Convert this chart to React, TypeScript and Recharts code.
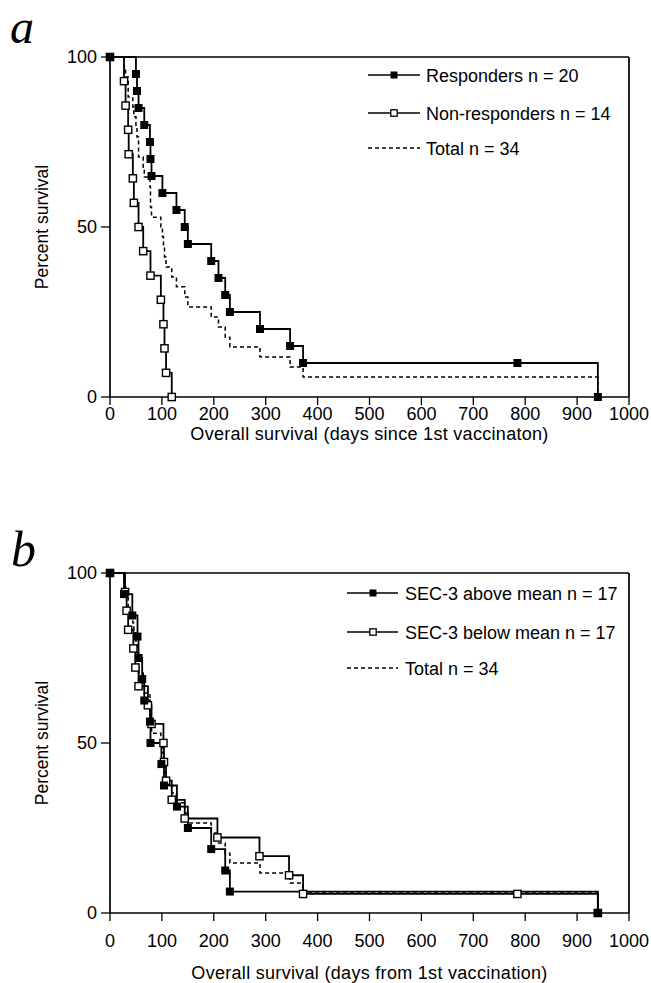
import React from 'react';
import { LineChart, Line, XAxis, YAxis, ReferenceLine, Legend } from 'recharts';

// panel a: responders vs non-responders (days, percent surviving)
const respDays = [0, 50, 52, 55, 66, 77, 78, 80, 101, 128, 144, 150, 195, 209, 222, 231, 289, 347, 372, 785, 940];
const respPct = [100, 95, 90, 85, 80, 75, 70, 65, 60, 55, 50, 45, 40, 35, 30, 25, 20, 15, 10, 10, 0];

const nonRespDays = [0, 27, 30, 35, 36, 44, 46, 55, 64, 78, 98, 103, 105, 108, 119];
const nonRespPct = [100, 92.9, 85.7, 78.6, 71.4, 64.3, 57.1, 50, 42.9, 35.7, 28.6, 21.4, 14.3, 7.1, 0];

// all 34 patients
const totalDays = [0, 27, 30, 35, 44, 46, 50, 52, 55, 64, 66, 77, 78, 80, 98, 101, 103, 105, 108, 119, 128, 144, 150, 195, 209, 222, 231, 289, 347, 372, 940];
const totalPct = [100, 97.1, 94.1, 88.2, 85.3, 82.4, 79.4, 76.5, 70.6, 67.6, 64.7, 61.8, 55.9, 52.9, 50, 47.1, 44.1, 41.2, 38.2, 35.3, 32.4, 29.4, 26.5, 23.5, 20.6, 17.6, 14.7, 11.8, 8.8, 5.9, 0];

// panel b: SEC-3 above / below mean
const aboveDays = [0, 27, 43, 53, 55, 62, 66, 77, 78, 99, 104, 129, 150, 195, 222, 231, 940];
const abovePct = [100, 93.8, 87.5, 81.3, 75, 68.8, 62.5, 56.3, 50, 43.8, 37.5, 31.3, 25, 18.8, 12.5, 6.3, 0];

const belowDays = [0, 29, 32, 35, 45, 49, 55, 73, 80, 103, 104, 108, 119, 144, 207, 288, 345, 372, 785, 940];
const belowPct = [100, 94.4, 88.9, 83.3, 77.8, 72.2, 66.7, 61.1, 55.6, 50, 44.4, 38.9, 33.3, 27.8, 22.2, 16.7, 11.1, 5.6, 5.6, 0];

const xTicks = [0, 100, 200, 300, 400, 500, 600, 700, 800, 900, 1000];
const yTicks = [0, 50, 100];

type Row = { day: number; pct: number };
const rows = (days: number[], pct: number[]): Row[] => days.map((d, i) => ({ day: d, pct: pct[i] }));

const FONT = '"Liberation Sans", Arial, Helvetica, sans-serif';
const SERIF = '"Liberation Serif", "Times New Roman", serif';

type Kind = 'filled' | 'open' | 'dashed';
type Series = { name: string; kind: Kind; data: Row[] };

const FilledSquare = (props: any) => {
  const { cx, cy, index } = props;
  if (cx == null || cy == null) return null;
  return <rect key={`f-${index}`} x={cx - 4} y={cy - 4} width={8} height={8} fill="#000" />;
};

const OpenSquare = (props: any) => {
  const { cx, cy, index } = props;
  if (cx == null || cy == null) return null;
  return (
    <rect key={`o-${index}`} x={cx - 3.6} y={cy - 3.6} width={7.2} height={7.2} fill="#fff" stroke="#000" strokeWidth={1.4} />
  );
};

type LegendGeo = { x1: number; x2: number; mx: number; tx: number; rows: number[] };

const makeLegend = (items: Series[], g: LegendGeo) => () => (
  <svg width={651} height={200} style={{ display: 'block' }}>
    {items.map((it, i) => {
      const y = g.rows[i];
      return (
        <g key={it.name}>
          <line
            x1={g.x1}
            x2={g.x2}
            y1={y}
            y2={y}
            stroke="#000"
            strokeWidth={1.5}
            strokeDasharray={it.kind === 'dashed' ? '4 3' : undefined}
          />
          {it.kind === 'filled' && <rect x={g.mx - 3.5} y={y - 3.5} width={7} height={7} fill="#000" />}
          {it.kind === 'open' && (
            <rect x={g.mx - 3.2} y={y - 3.2} width={6.4} height={6.4} fill="#fff" stroke="#000" strokeWidth={1.3} />
          )}
          <text x={g.tx} y={y + 6.5} fontFamily={FONT} fontSize={18} fill="#000">
            {it.name}
          </text>
        </g>
      );
    })}
  </svg>
);

function Panel({
  top,
  height,
  xAxisHeight,
  tickGap,
  xTitle,
  series,
  legend,
}: {
  top: number;
  height: number;
  xAxisHeight: number;
  tickGap: number;
  xTitle: string;
  series: Series[];
  legend: LegendGeo;
}) {
  const plotH = 340;
  const tickStyle = { fontSize: 18, fill: '#000', fontFamily: FONT };
  const axisLine = { stroke: '#000', strokeWidth: 1.7 };
  // draw order: dashed, open, filled (filled markers on top)
  const order: Kind[] = ['dashed', 'open', 'filled'];
  const drawn = order.flatMap((k) => series.filter((s) => s.kind === k));
  return (
    <div style={{ position: 'absolute', left: 0, top, width: 651, height }}>
      <LineChart
        width={651}
        height={height}
        margin={{ top: 57, right: 22, left: 60, bottom: height - 57 - plotH - xAxisHeight }}
      >
        <XAxis
          type="number"
          dataKey="day"
          domain={[0, 1000]}
          ticks={xTicks}
          tick={tickStyle}
          tickSize={8}
          tickMargin={tickGap}
          axisLine={axisLine}
          tickLine={{ stroke: '#000', strokeWidth: 1.3 }}
          height={xAxisHeight}
          label={{
            value: xTitle,
            position: 'insideBottom',
            offset: 0,
            style: { fontSize: 18, fill: '#000', fontFamily: FONT, letterSpacing: 0.3 },
          }}
        />
        <YAxis
          type="number"
          domain={[0, 100]}
          ticks={yTicks}
          width={50}
          tick={tickStyle}
          tickSize={9}
          tickMargin={4}
          axisLine={axisLine}
          tickLine={{ stroke: '#000', strokeWidth: 1.3 }}
          label={{
            content: () => (
              <text
                x={48}
                y={57 + plotH / 2}
                transform={`rotate(-90 48 ${57 + plotH / 2})`}
                textAnchor="middle"
                fontFamily={FONT}
                fontSize={17.5}
                fill="#000"
              >
                Percent survival
              </text>
            ),
          }}
        />
        <ReferenceLine y={100} stroke="#000" strokeWidth={1.7} />
        <ReferenceLine x={1000} stroke="#000" strokeWidth={1.7} />
        {drawn.map((s) => (
          <Line
            key={s.name}
            data={s.data}
            dataKey="pct"
            type="stepAfter"
            stroke="#000"
            strokeWidth={s.kind === 'dashed' ? 1.5 : 1.8}
            strokeDasharray={s.kind === 'dashed' ? '4 3' : undefined}
            dot={s.kind === 'filled' ? FilledSquare : s.kind === 'open' ? OpenSquare : false}
            activeDot={false}
            isAnimationActive={false}
          />
        ))}
        <Legend
          layout="vertical"
          align="center"
          verticalAlign="middle"
          content={makeLegend(series, legend)}
          wrapperStyle={{ position: 'absolute', left: 0, top: 0, width: 651, height: 200 }}
        />
      </LineChart>
    </div>
  );
}

const seriesA: Series[] = [
  { name: 'Responders n = 20', kind: 'filled', data: rows(respDays, respPct) },
  { name: 'Non-responders n = 14', kind: 'open', data: rows(nonRespDays, nonRespPct) },
  { name: 'Total n = 34', kind: 'dashed', data: rows(totalDays, totalPct) },
];

const seriesB: Series[] = [
  { name: 'SEC-3 above mean n = 17', kind: 'filled', data: rows(aboveDays, abovePct) },
  { name: 'SEC-3 below  mean n = 17', kind: 'open', data: rows(belowDays, belowPct) },
  { name: 'Total n = 34', kind: 'dashed', data: rows(totalDays, totalPct) },
];

export default function App() {
  return (
    <div style={{ position: 'absolute', left: 0, top: 0, width: 651, height: 983, background: '#fff', overflow: 'hidden' }}>
      <Panel
        top={0}
        height={446}
        xAxisHeight={43}
        tickGap={2}
        xTitle="Overall survival (days since 1st vaccinaton)"
        series={seriesA}
        legend={{ x1: 368, x2: 420, mx: 394, tx: 426, rows: [75, 113, 148] }}
      />
      <Panel
        top={516}
        height={467}
        xAxisHeight={66}
        tickGap={13}
        xTitle="Overall survival (days from 1st vaccination)"
        series={seriesB}
        legend={{ x1: 347, x2: 398, mx: 373, tx: 405, rows: [77, 116, 152] }}
      />
      <svg
        width={651}
        height={983}
        style={{ position: 'absolute', left: 0, top: 0, pointerEvents: 'none' }}
      >
        <text x={10} y={43} fontFamily={SERIF} fontStyle="italic" fontSize={48} fill="#000">
          a
        </text>
        <text x={11} y={566} fontFamily={SERIF} fontStyle="italic" fontSize={50} fill="#000">
          b
        </text>
      </svg>
    </div>
  );
}
